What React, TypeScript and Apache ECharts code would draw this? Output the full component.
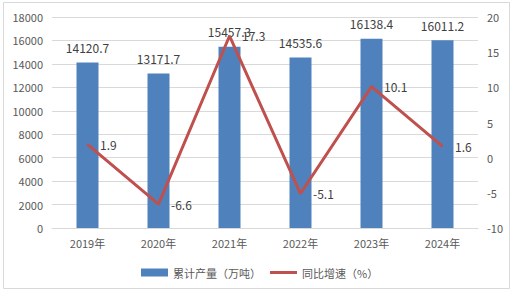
import React, { useEffect, useRef } from "react";
import * as echarts from "echarts";

const categories = ["2019年", "2020年", "2021年", "2022年", "2023年", "2024年"];
const output = [14120.7, 13171.7, 15457.3, 14535.6, 16138.4, 16011.2];
const growth = [1.9, -6.6, 17.3, -5.1, 10.1, 1.6];

const FONT = "'Noto Sans CJK SC', 'Noto Sans', sans-serif";
const legendText = { fontSize: 11, color: "#595959", fontFamily: FONT };

export default function App() {
  const ref = useRef<HTMLDivElement>(null);
  useEffect(() => {
    document.body.style.margin = "0";
    const chart = echarts.init(ref.current!, null, { renderer: "svg" });
    chart.setOption({
      animation: false,
      textStyle: { fontFamily: FONT },
      graphic: [
        {
          type: "rect",
          shape: { x: 3.5, y: 2.5, width: 506, height: 286 },
          style: { fill: "none", stroke: "#D9D9D9", lineWidth: 1 },
          silent: true,
        },
      ],
      grid: { left: 52, right: 36, top: 17, bottom: 65 },
      legend: [
        {
          top: 262,
          left: 136,
          itemWidth: 27,
          itemHeight: 8,
          itemGap: 4,
          textStyle: legendText,
          data: [{ name: "累计产量（万吨）", icon: "rect" }],
        },
        {
          top: 262,
          left: 265,
          itemWidth: 27,
          itemHeight: 3,
          itemGap: 4,
          textStyle: legendText,
          data: [{ name: "同比增速（%）", icon: "rect", itemStyle: { color: "#C0504D" } }],
        },
      ],
      xAxis: {
        type: "category",
        data: categories,
        axisLine: { lineStyle: { color: "#D9D9D9" } },
        axisTick: { show: false },
        axisLabel: { fontSize: 11, color: "#595959", margin: 9 },
      },
      yAxis: [
        {
          type: "value",
          min: 0,
          max: 18000,
          interval: 2000,
          axisLabel: {
            fontSize: 11,
            color: "#595959",
            margin: 9,
            formatter: (v: number) => String(v),
          },
          splitLine: { lineStyle: { color: "#D9D9D9" } },
          axisLine: { show: false },
          axisTick: { show: false },
        },
        {
          type: "value",
          min: -10,
          max: 20,
          interval: 5,
          axisLabel: {
            fontSize: 11,
            color: "#595959",
            margin: 9,
            formatter: (v: number) => String(v),
          },
          splitLine: { show: false },
          axisLine: { show: false },
          axisTick: { show: false },
        },
      ],
      series: [
        {
          name: "累计产量（万吨）",
          type: "bar",
          data: output,
          barWidth: 22,
          itemStyle: { color: "#4F81BD" },
          label: {
            show: true,
            position: "top",
            distance: 9,
            fontSize: 12,
            color: "#404040",
          },
        },
        {
          name: "同比增速（%）",
          type: "line",
          yAxisIndex: 1,
          data: growth,
          symbol: "circle",
          symbolSize: 1,
          showSymbol: true,
          lineStyle: { color: "#C0504D", width: 3 },
          itemStyle: { color: "#C0504D" },
          label: {
            show: true,
            position: "right",
            distance: 12,
            fontSize: 12,
            color: "#404040",
          },
        },
      ],
    });
    return () => chart.dispose();
  }, []);
  return <div ref={ref} style={{ width: 514, height: 293 }} />;
}
